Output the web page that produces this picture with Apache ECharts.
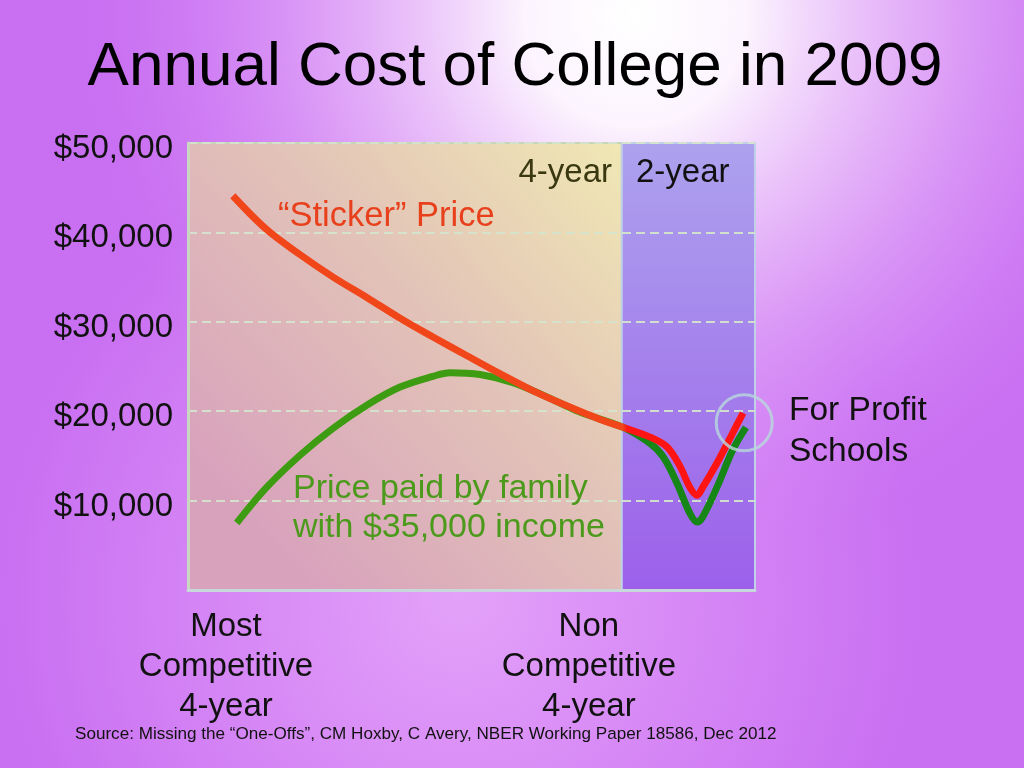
<!DOCTYPE html>
<html>
<head>
<meta charset="utf-8">
<script src="https://cdn.jsdelivr.net/npm/echarts@6/dist/echarts.min.js"></script>
<style>
  html, body { margin: 0; padding: 0; }
  #chart { width: 1024px; height: 768px; }
</style>
</head>
<body>
<div id="chart"></div>
<script>
// ---- data ----
const categories = ['Most\nCompetitive\n4-year', 'Non\nCompetitive\n4-year'];
const categoryPositions = [6.7, 70.7];
const sectorNames = ['4-year', '2-year'];
const sectorBounds = [0, 76.5, 100];
const yTicks = [0, 10000, 20000, 30000, 40000, 50000];

const stickerX = [7.9, 13.9, 19.8, 25.6, 31.6, 37.4, 43.2, 49.2, 55.0, 60.8, 66.8, 72.6, 76.7, 81.5, 84.5, 86.8, 88.5, 89.8, 90.8, 93.3, 96.1, 97.9];
const stickerY = [44100, 40300, 37500, 35000, 32700, 30400, 28300, 26200, 24200, 22300, 20600, 19100, 18200, 17100, 16000, 13800, 11500, 10600, 11500, 14200, 17600, 19800];

const paidX = [8.6, 13.9, 19.8, 25.6, 31.6, 37.4, 43.2, 46.2, 51.5, 57.3, 63.3, 69.1, 76.7, 81.5, 83.8, 86.2, 88.5, 89.8, 90.8, 93.3, 96.1, 98.4];
const paidY = [7500, 11500, 15100, 18100, 20700, 22700, 23900, 24300, 24100, 23200, 21600, 19900, 18200, 16400, 14900, 12000, 8600, 7600, 8200, 11500, 15700, 18200];

const forProfitMark = [[98.1, 18700]];

const FONT = '"Liberation Sans", Arial, Helvetica, sans-serif';

const chart = echarts.init(document.getElementById('chart'), null, { renderer: 'canvas' });

const zip = (xs, ys) => xs.map((x, i) => [x, ys[i]]);

const option = {
  animation: false,
  graphic: [
    { type: 'rect', z: -100, shape: { x: 0, y: 0, width: 1024, height: 768 }, style: { fill: '#C96FF2' } },
    { type: 'rect', z: -99, shape: { x: 0, y: 0, width: 1024, height: 768 },
      style: { fill: new echarts.graphic.RadialGradient(0.45, 0.78, 0.6, [
        { offset: 0, color: 'rgba(232,170,250,0.85)' },
        { offset: 1, color: 'rgba(232,170,250,0)' }
      ]) } },
    { type: 'rect', z: -98, shape: { x: 0, y: 0, width: 1024, height: 768 },
      style: { fill: new echarts.graphic.RadialGradient(0.62, 0.02, 0.72, [
        { offset: 0, color: 'rgba(255,255,255,1)' },
        { offset: 0.2, color: 'rgba(252,244,254,1)' },
        { offset: 0.55, color: 'rgba(228,176,248,0.8)' },
        { offset: 1, color: 'rgba(210,130,245,0)' }
      ]) } },
    { type: 'text', z: 10, x: 515, y: 68,
      style: { text: 'Annual Cost of College in 2009', fontSize: 62, fontFamily: FONT, fill: '#000', align: 'center', verticalAlign: 'middle' } },
    { type: 'text', z: 10, x: 278, y: 216,
      style: { text: '\u201CSticker\u201D Price', fontSize: 34.5, fontFamily: FONT, fill: '#E8401C', align: 'left', verticalAlign: 'middle' } },
    { type: 'text', z: 10, x: 612, y: 173,
      style: { text: sectorNames[0], fontSize: 33, fontFamily: FONT, fill: '#3A3810', align: 'right', verticalAlign: 'middle' } },
    { type: 'text', z: 10, x: 636, y: 173,
      style: { text: sectorNames[1], fontSize: 33, fontFamily: FONT, fill: '#111', align: 'left', verticalAlign: 'middle' } },
    { type: 'text', z: 10, x: 293, y: 508,
      style: { text: 'Price paid by family\nwith $35,000 income', fontSize: 34, lineHeight: 39, fontFamily: FONT, fill: '#4C9A1C', align: 'left', verticalAlign: 'middle' } },
    { type: 'text', z: 10, x: 789, y: 431,
      style: { text: 'For Profit\nSchools', fontSize: 33.5, lineHeight: 41, fontFamily: FONT, fill: '#111', align: 'left', verticalAlign: 'middle' } },
    { type: 'text', z: 10, x: 75, y: 734,
      style: { text: 'Source: Missing the \u201COne-Offs\u201D, CM Hoxby, C Avery, NBER Working Paper 18586, Dec 2012', fontSize: 17.1, fontFamily: FONT, fill: '#111', align: 'left', verticalAlign: 'middle' } }
  ],
  grid: { left: 188, right: 269, top: 143, bottom: 178, containLabel: false },
  xAxis: {
    type: 'value', min: sectorBounds[0], max: sectorBounds[2], z: 1,
    axisLine: { show: true, lineStyle: { color: '#C8D8DA', width: 3 } },
    axisTick: { show: false },
    splitLine: { show: false },
    axisLabel: {
      customValues: categoryPositions,
      formatter: (v) => { const i = categoryPositions.indexOf(v); return i >= 0 ? categories[i] : ''; },
      fontSize: 33, lineHeight: 40, fontFamily: FONT, color: '#111', margin: 17
    }
  },
  yAxis: {
    type: 'value', min: yTicks[0], max: yTicks[yTicks.length - 1], interval: 10000, z: 1,
    axisLine: { show: true, lineStyle: { color: '#C8D8C0', width: 3 } },
    axisTick: { show: false },
    splitLine: { show: true, lineStyle: { color: 'rgba(212,228,204,0.95)', width: 2, type: [9, 5] } },
    axisLabel: {
      showMinLabel: false,
      formatter: (v) => v === 0 ? '' : '{a|$' + v.toLocaleString('en-US') + '}',
      rich: { a: { fontSize: 33, fontFamily: FONT, color: '#111', padding: [12, 0, 0, 0] } },
      margin: 15
    }
  },
  series: [
    {
      type: 'line', data: [], silent: true,
      markArea: {
        z: 0, silent: true,
        data: [
          [{ xAxis: sectorBounds[0], yAxis: yTicks[0],
             itemStyle: {
               color: new echarts.graphic.LinearGradient(1, 0, 0.1, 0.8, [
                 { offset: 0, color: '#F0E8B4' },
                 { offset: 0.5, color: '#E2C2B8' },
                 { offset: 1, color: '#D8A2BC' }
               ]),
               borderColor: '#C6D6B6', borderWidth: 2, opacity: 1
             } },
           { xAxis: sectorBounds[1], yAxis: yTicks[yTicks.length - 1] }],
          [{ xAxis: sectorBounds[1], yAxis: yTicks[0],
             itemStyle: {
               color: new echarts.graphic.LinearGradient(0, 0, 0, 1, [
                 { offset: 0, color: '#ADA2EE' },
                 { offset: 1, color: '#9C60EA' }
               ]),
               borderColor: '#C0D0E6', borderWidth: 2, opacity: 1
             } },
           { xAxis: sectorBounds[2], yAxis: yTicks[yTicks.length - 1] }]
        ]
      }
    },
    {
      name: 'Price paid by family with $35,000 income',
      type: 'line', z: 3, smooth: 0.35, symbol: 'none',
      data: zip(paidX, paidY),
      lineStyle: {
        width: 7, cap: 'butt', join: 'round',
        color: new echarts.graphic.LinearGradient(0, 0, 1, 0, [
          { offset: 0, color: '#3E9C12' },
          { offset: 0.755, color: '#3E9C12' },
          { offset: 0.765, color: '#168616' },
          { offset: 1, color: '#168616' }
        ])
      }
    },
    {
      name: '"Sticker" Price',
      type: 'line', z: 4, smooth: 0.35, symbol: 'none',
      data: zip(stickerX, stickerY),
      lineStyle: {
        width: 7, cap: 'butt', join: 'round',
        color: new echarts.graphic.LinearGradient(0, 0, 1, 0, [
          { offset: 0, color: '#F0461A' },
          { offset: 0.76, color: '#F0461A' },
          { offset: 0.77, color: '#FF1414' },
          { offset: 1, color: '#FF1414' }
        ])
      }
    },
    {
      type: 'scatter', z: 5, symbol: 'circle', symbolSize: 56, silent: true,
      data: forProfitMark,
      itemStyle: { color: 'rgba(0,0,0,0)', borderColor: '#B8D8DC', borderWidth: 3 }
    }
  ]
};

chart.setOption(option);
</script>
</body>
</html>
